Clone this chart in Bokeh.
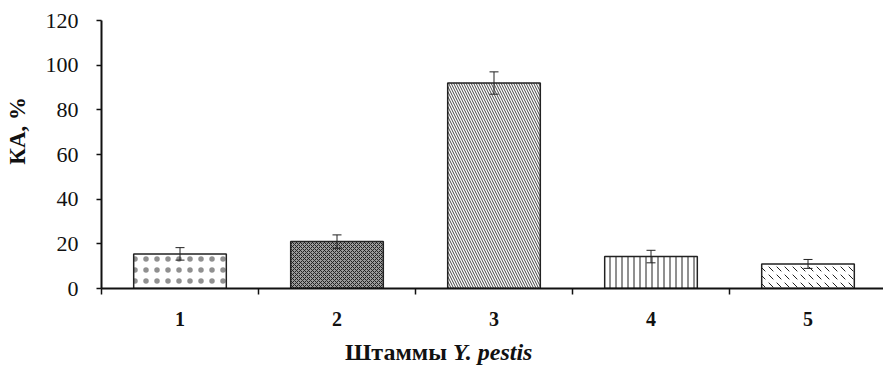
from bokeh.plotting import figure
from bokeh.models import (ColumnDataSource, FixedTicker, Whisker, TeeHead, Range1d, Div)
from bokeh.layouts import column, row
from bokeh.embed import file_html
from bokeh.resources import INLINE

# data
strains = ["1", "2", "3", "4", "5"]
ka_values = [15.5, 21, 92, 14.3, 11]
ka_errors = [2.8, 3, 5, 2.8, 2]
y_ticks = [0, 20, 40, 60, 80, 100, 120]
hatches = [".", "x", "\\", "|", "`"]
hatch_scales = [11, 4, 5, 6, 8]
hatch_alphas = [0.5, 1.0, 0.85, 1.0, 1.0]
fills = ["white", "#9a9a9a", "white", "white", "white"]

W, H = 883, 367
YT_W = 30            # width of the y-title column
HF = 335             # figure height
PW = W - YT_W        # figure width
LEFT, TOP, BOTTOM_PX = 101 - YT_W, 20, 288
CAT_PX = 157.0
x_end = 0.5 + (PW - LEFT) / CAT_PX

p = figure(width=PW, height=HF, output_backend="svg", toolbar_location=None,
           x_range=Range1d(0.5, x_end), y_range=Range1d(0, 120),
           min_border_left=LEFT, min_border_right=0, min_border_top=TOP,
           min_border_bottom=HF - BOTTOM_PX)
p.outline_line_color = None
p.xgrid.visible = False
p.ygrid.visible = False
p.background_fill_color = "white"
p.border_fill_color = "white"

xs = list(range(1, len(strains) + 1))
src = ColumnDataSource(dict(x=xs, top=ka_values, err=ka_errors,
                            lower=[v - e for v, e in zip(ka_values, ka_errors)],
                            upper=[v + e for v, e in zip(ka_values, ka_errors)],
                            hatch=hatches, hscale=hatch_scales, halpha=hatch_alphas,
                            fill=fills))

p.vbar(x="x", top="top", bottom=0, width=0.59, source=src,
       fill_color="fill", line_color="#222222", line_width=1.5,
       hatch_pattern="hatch", hatch_scale="hscale", hatch_alpha="halpha",
       hatch_color="#222222", hatch_weight=1)

p.add_layout(Whisker(source=src, base="x", lower="lower", upper="upper",
                     level="overlay",
                     line_color="#222222", line_width=1,
                     upper_head=TeeHead(size=9, line_color="#222222", line_width=1),
                     lower_head=TeeHead(size=9, line_color="#222222", line_width=1)))

font = "Liberation Serif"

# y axis
ya = p.yaxis[0]
ya.ticker = FixedTicker(ticks=y_ticks, minor_ticks=[])
ya.axis_line_width = 2
ya.axis_line_color = "#111111"
ya.major_tick_line_width = 1.5
ya.major_tick_line_color = "#111111"
ya.major_tick_in = 0
ya.major_tick_out = 5
ya.minor_tick_line_color = None
ya.major_label_text_font = font
ya.major_label_text_font_size = "22px"
ya.major_label_text_color = "#111111"
ya.major_label_standoff = 18

# x axis
xa = p.xaxis[0]
xa.ticker = FixedTicker(ticks=xs, minor_ticks=[i + 0.5 for i in range(0, len(strains) + 1)])
xa.major_label_overrides = {i: s for i, s in zip(xs, strains)}
xa.axis_line_width = 2
xa.axis_line_color = "#111111"
xa.major_tick_in = 0
xa.major_tick_out = 0
xa.major_tick_line_color = None
xa.minor_tick_in = 0
xa.minor_tick_out = 6
xa.minor_tick_line_width = 1.5
xa.minor_tick_line_color = "#111111"
xa.major_label_text_font = font
xa.major_label_text_font_size = "20px"
xa.major_label_text_font_style = "bold"
xa.major_label_text_color = "#111111"
xa.major_label_standoff = 17

# y axis title (rotated, reads bottom-to-top)
ytitle = Div(text='<div style="position:absolute; left:6px; top:97px; '
                  'writing-mode:vertical-rl; transform:rotate(180deg); '
                  'font-family:\'Liberation Serif\', serif; font-weight:bold; '
                  'font-size:23px; line-height:23px; color:#111111; '
                  'white-space:nowrap;">КА, %</div>',
             width=YT_W, height=H, margin=(0, 0, 0, 0),
             styles={"position": "relative", "background-color": "white"})

# x axis title (mixed upright / italic)
xlabel = Div(text='<span style="font-weight:bold">Штаммы <i>Y. pestis</i></span>',
             width=PW, height=H - HF, margin=(0, 0, 0, 0),
             styles={"font-family": "'Liberation Serif', serif", "font-size": "24px",
                     "line-height": "24px", "color": "#111111",
                     "padding-left": f"{345 - YT_W}px", "padding-top": "5px",
                     "box-sizing": "border-box", "background-color": "white"})

layout = row(ytitle, column(p, xlabel, spacing=0, margin=(0, 0, 0, 0)),
             spacing=0, margin=(0, 0, 0, 0))
open("out.html", "w").write(file_html(layout, INLINE))
